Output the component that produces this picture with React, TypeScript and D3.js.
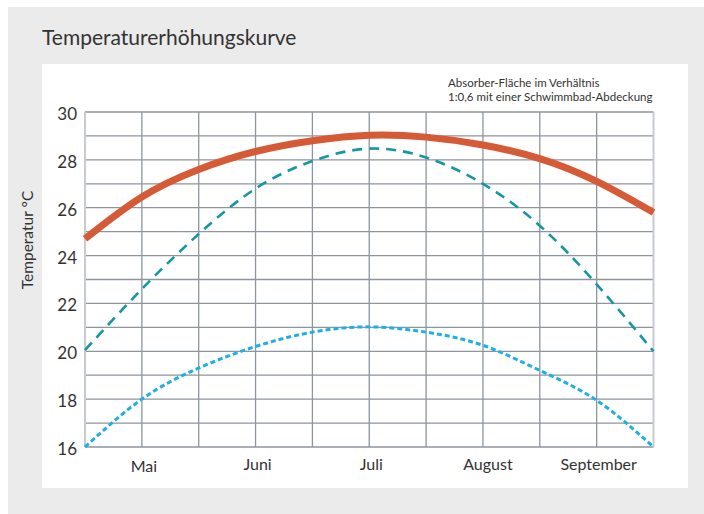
import React from "react";
import * as d3 from "d3";

// half-month steps from mid April to end of September
const steps = [0, 1, 2, 3, 4, 5, 6, 7, 8, 9, 10];
const monthLabels = ["Mai", "Juni", "Juli", "August", "September"];
const monthSteps = [1, 3, 5, 7, 9];
const yTicks = [16, 18, 20, 22, 24, 26, 28, 30];

// series values (°C)
const absorberCover = [24.7, 26.45, 27.6, 28.35, 28.8, 29.03, 28.95, 28.62, 28.05, 27.1, 25.8];
const absorberOnly = [20.05, 22.6, 24.9, 26.8, 27.95, 28.47, 28.1, 27.0, 25.25, 22.8, 20.0];
const noAbsorber = [16.0, 18.0, 19.3, 20.2, 20.8, 21.02, 20.8, 20.25, 19.2, 17.95, 16.0];

const W = 704;
const H = 514;
const plot = { left: 85, right: 653.5, top: 112, bottom: 447 };
const font = "Lato, 'Open Sans', sans-serif";
const textColor = "#333";
const gridColor = "#8e959d";

const App: React.FC = () => {
  const x = d3.scaleLinear().domain([0, 10]).range([plot.left, plot.right]);
  const y = d3.scaleLinear().domain([16, 30]).range([plot.bottom, plot.top]);

  const line = d3
    .line<number>()
    .x((_, i) => x(steps[i]))
    .y((d) => y(d))
    .curve(d3.curveNatural);

  const hLines = d3.range(16, 31, 1);

  return (
    <svg
      width={W}
      height={H}
      style={{ position: "fixed", left: 0, top: 0, display: "block" }}
      fontFamily={font}
    >
      <rect width={W} height={H} fill="#fff" />
      <rect x={8} y={7} width={W - 8} height={H - 7} fill="#ebebeb" />
      <rect x={42} y={64} width={646} height={424} fill="#fff" />

      {/* title */}
      <text x={42} y={45} fontSize={21} fill={textColor}>
        Temperaturerhöhungskurve
      </text>

      {/* annotation */}
      <text x={448} y={87} fontSize={11.5} fill={textColor}>
        Absorber-Fläche im Verhältnis
      </text>
      <text x={448} y={101} fontSize={11.5} fill={textColor}>
        1:0,6 mit einer Schwimmbad-Abdeckung
      </text>

      {/* grid */}
      <g>
        {hLines.map((v) => (
          <line
            key={`h${v}`}
            x1={plot.left}
            x2={plot.right}
            y1={y(v)}
            y2={y(v)}
            stroke={gridColor}
            strokeWidth={1.3}
          />
        ))}
        {steps.map((s) => (
          <line
            key={`v${s}`}
            x1={x(s)}
            x2={x(s)}
            y1={plot.top}
            y2={plot.bottom}
            stroke={s === 0 || s === 10 ? "#c8ccd1" : gridColor}
            strokeWidth={s === 0 || s === 10 ? 2 : 1.3}
          />
        ))}
      </g>

      {/* y axis */}
      <g>
        {yTicks.map((t) => (
          <text
            key={t}
            x={77}
            y={y(t) + 8}
            textAnchor="end"
            fontSize={17}
            fill={textColor}
          >
            {t}
          </text>
        ))}
        <text
          transform={`translate(33,${240}) rotate(-90)`}
          textAnchor="middle"
          fontSize={15.5}
          fill={textColor}
        >
          Temperatur °C
        </text>
      </g>

      {/* x labels */}
      <g>
        {monthLabels.map((m, i) => (
          <text
            key={m}
            x={x(monthSteps[i]) + (i === 3 ? 5 : 2)}
            y={i === 0 ? 472 : 470}
            textAnchor="middle"
            fontSize={16}
            fill={textColor}
          >
            {m}
          </text>
        ))}
      </g>

      {/* curves */}
      <path
        d={line(noAbsorber) ?? ""}
        fill="none"
        stroke="#1fb0e3"
        strokeWidth={3}
        strokeDasharray="5 3"
      />
      <path
        d={line(absorberOnly) ?? ""}
        fill="none"
        stroke="#1597a3"
        strokeWidth={2.6}
        strokeDasharray="10 7"
      />
      <path
        d={line(absorberCover) ?? ""}
        fill="none"
        stroke="#d65a35"
        strokeWidth={7}
      />
    </svg>
  );
};

export default App;
